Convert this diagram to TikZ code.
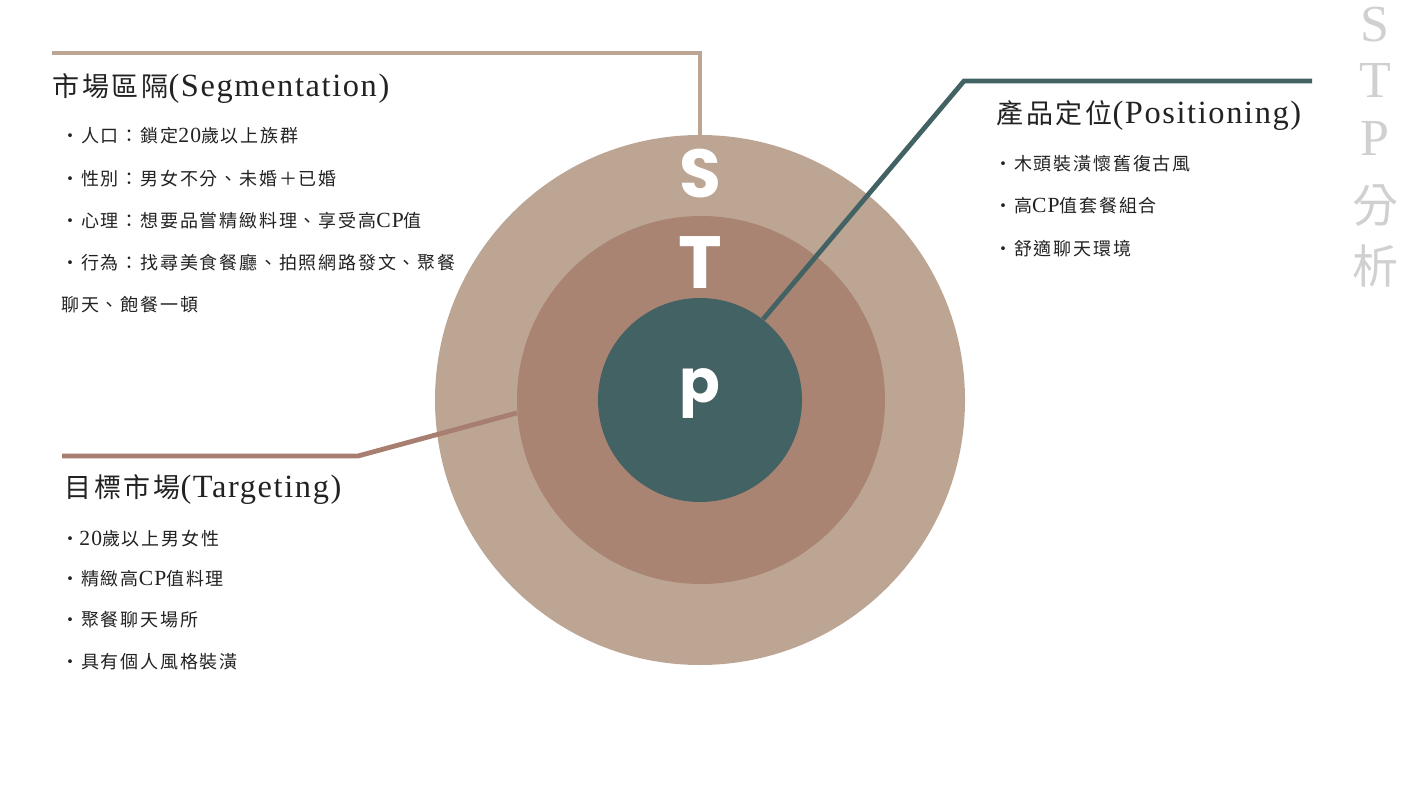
\documentclass[tikz,border=0pt]{standalone}
\usepackage{fontspec}
\setmainfont{Liberation Serif}
\newfontfamily\cjk[LetterSpace=10]{Noto Sans CJK TC}
\newfontfamily\cjkplain{Noto Sans CJK TC}
\newfontfamily\lat[Scale=1.2,LetterSpace=5]{Liberation Serif}
\newfontfamily\hand{Poppins}
\newcommand\zh[1]{{\cjk #1}}
\newcommand\en[1]{{\lat #1}}
\definecolor{ringS}{HTML}{BDA594}
\definecolor{ringT}{HTML}{A98473}
\definecolor{ringP}{HTML}{436263}
\definecolor{lineT}{HTML}{A77E6F}
\definecolor{txt}{HTML}{222222}
\definecolor{sidegray}{HTML}{D0D0D0}
\tikzset{
  ring/.style={circle, inner sep=0pt, draw=none},
  conn/.style={line width=2.4pt, line join=miter},
  titletext/.style={anchor=base west, inner sep=0pt, text=txt, font=\fontsize{13.5}{15}\selectfont},
  itemtext/.style={anchor=base west, inner sep=0pt, text=txt, font=\fontsize{9}{11}\selectfont},
  bigletter/.style={inner sep=0pt, text=white, font=\hand\bfseries\fontsize{34}{40}\selectfont},
  sideletter/.style={inner sep=0pt, text=sidegray, font=\fontsize{26}{30}\selectfont},
  sidecjk/.style={inner sep=0pt, text=sidegray, font=\cjkplain\fontsize{23}{26}\selectfont}
}
\begin{document}
\begin{tikzpicture}[x=0.5pt, y=-0.5pt]
\useasboundingbox (0,0) rectangle (1401,801);
\fill[white] (0,0) rectangle (1401,801);

% rings
\node[ring, fill=ringS, minimum size=265pt] (outer) at (700,400) {};
\node[ring, fill=ringT, minimum size=184pt] (middle) at (701,400) {};
\node[ring, fill=ringP, minimum size=102pt] (inner) at (700,400) {};

\node[bigletter] (S) at (700,174) {S};
\node[bigletter, font=\hand\bfseries\fontsize{37}{44}\selectfont] (T) at (700,263) {T};
\node[bigletter, font=\hand\bfseries\fontsize{30}{36}\selectfont] (p) at (700,394) {p};

% connectors
\coordinate (segEnd) at (52,53);
\coordinate (segCorner) at (700,53);
\draw[conn, ringS] (segEnd) -- (segCorner) -- (outer.north);

\coordinate (posCorner) at (964,81);
\coordinate (posEnd) at (1312,81);
\draw[conn, ringP] (inner.52) -- (posCorner) -- (posEnd);

\coordinate (tgtCorner) at (358,456);
\coordinate (tgtEnd) at (62,456);
\draw[conn, lineT] (middle.184) -- (tgtCorner) -- (tgtEnd);

% Segmentation
\node[titletext] (segT) at (52,97) {\zh{市場區隔}\en{(Segmentation)}};
\node[itemtext] (seg1) at (61,143) {\zh{・人口：鎖定}\en{20}\zh{歲以上族群}};
\node[itemtext] (seg2) at (61,186) {\zh{・性別：男女不分、未婚＋已婚}};
\node[itemtext] (seg3) at (61,228) {\zh{・心理：想要品嘗精緻料理、享受高}\en{CP}\zh{值}};
\node[itemtext] (seg4) at (61,270) {\zh{・行為：找尋美食餐廳、拍照網路發文、聚餐}};
\node[itemtext] (seg5) at (61,312) {\zh{聊天、飽餐一頓}};

% Targeting
\node[titletext] (tgtT) at (64,497) {\zh{目標市場}\en{(Targeting)}};
\node[itemtext] (tgt1) at (61,545) {\zh{・}\en{20}\zh{歲以上男女性}};
\node[itemtext] (tgt2) at (61,585) {\zh{・精緻高}\en{CP}\zh{值料理}};
\node[itemtext] (tgt3) at (61,626) {\zh{・聚餐聊天場所}};
\node[itemtext] (tgt4) at (61,668) {\zh{・具有個人風格裝潢}};

% Positioning
\node[titletext] (posT) at (996,124) {\zh{產品定位}\en{(Positioning)}};
\node[itemtext] (pos1) at (994,171) {\zh{・木頭裝潢懷舊復古風}};
\node[itemtext] (pos2) at (994,213) {\zh{・高}\en{CP}\zh{值套餐組合}};
\node[itemtext] (pos3) at (994,256) {\zh{・舒適聊天環境}};

% side title
\node[sideletter] (sS) at (1375,25) {S};
\node[sideletter] (sT) at (1375,80) {T};
\node[sideletter] (sP) at (1375,138) {P};
\node[sidecjk] (sFen) at (1375,206) {分};
\node[sidecjk] (sXi) at (1375,266) {析};
\end{tikzpicture}
\end{document}
